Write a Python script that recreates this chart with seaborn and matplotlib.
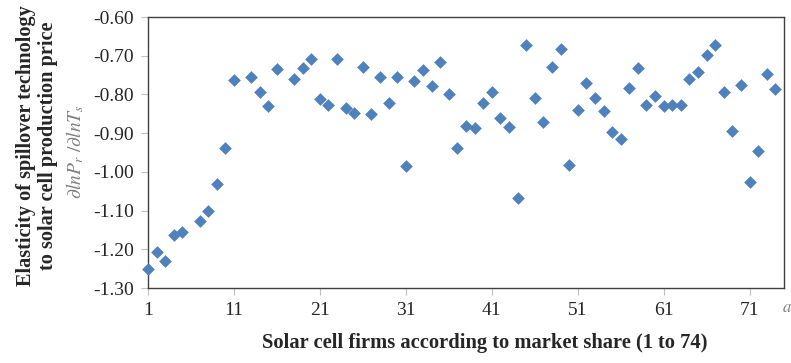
import numpy as np
import pandas as pd
import matplotlib
matplotlib.use('Agg')
import matplotlib.pyplot as plt
import seaborn as sns

# firm rank (by market share) and the elasticity
firms = [1, 2, 3, 4, 5, 7, 8, 9, 10, 11, 13, 14, 15, 16,
         18, 19, 20, 21, 22, 23, 24, 25, 26, 27, 28, 29, 30,
         31, 32, 33, 34, 35, 36, 37, 38, 39, 40, 41, 42, 43, 44,
         45, 46, 47, 48, 49, 50, 51, 52, 53, 54, 55, 56, 57, 58,
         59, 60, 61, 62, 63, 64, 65, 66, 67, 68, 69, 70, 71, 72, 73, 74]
elasticity = [-1.250, -1.208, -1.230, -1.163, -1.155, -1.126, -1.102, -1.031, -0.938, -0.762,
              -0.756, -0.795, -0.831, -0.735,
              -0.761, -0.732, -0.708, -0.812, -0.828, -0.708, -0.834, -0.849, -0.728, -0.851,
              -0.756, -0.823, -0.756, -0.986, -0.766, -0.737, -0.777, -0.716, -0.799, -0.938,
              -0.881, -0.886, -0.821, -0.793, -0.861, -0.885, -1.067, -0.673, -0.808, -0.871,
              -0.728, -0.683, -0.982, -0.840, -0.771, -0.810, -0.844, -0.898, -0.915, -0.783,
              -0.732, -0.828, -0.805, -0.831, -0.828, -0.828, -0.760, -0.743, -0.697, -0.672,
              -0.795, -0.894, -0.776, -1.027, -0.945, -0.746, -0.786]

x_ticks = [1, 11, 21, 31, 41, 51, 61, 71]
y_ticks = [-1.30, -1.20, -1.10, -1.00, -0.90, -0.80, -0.70, -0.60]

df = pd.DataFrame({'firm': firms, 'elasticity': elasticity})

sns.set_theme(style='white')
plt.rcParams['font.family'] = ['Liberation Serif', 'DejaVu Serif']
plt.rcParams['mathtext.fontset'] = 'stix'
plt.rcParams['axes.unicode_minus'] = False

fig = plt.figure(figsize=(7.91, 3.63), dpi=100)
ax = fig.add_axes([148 / 791, 1 - 288 / 363, (784 - 148) / 791, (288 - 17) / 363])

sns.scatterplot(data=df, x='firm', y='elasticity', marker='D', s=42,
                color='#4F81BD', linewidth=0, clip_on=False, zorder=3, ax=ax)

ax.set_xlim(1, 75)
ax.set_ylim(-1.30, -0.60)
ax.set_xticks(x_ticks)
ax.set_xticklabels([str(t) for t in x_ticks])
ax.set_yticks(y_ticks)
ax.set_yticklabels([f'{t:.2f}' for t in y_ticks])
ax.tick_params(axis='both', labelsize=14, length=5, width=0.8, color='#bfbfbf',
               direction='out', pad=5, bottom=True, left=True)
ax.set_xlabel('')
ax.set_ylabel('')
for sp in ax.spines.values():
    sp.set_color('#404040')
    sp.set_linewidth(1.0)

# axis titles placed like the original
fig.text(485 / 791, 1 - 343 / 363, 'Solar cell firms according to market share (1 to 74)',
         ha='center', va='center', fontsize=14.8, fontweight='bold')
fig.text(37 / 791, 1 - 146 / 363, 'Elasticity of spillover technology\nto solar cell production price',
         ha='center', va='center', rotation=90, fontsize=14.6, fontweight='bold', linespacing=1.12)
fig.text(75 / 791, 1 - 152 / 363, r'$\partial lnP_r\ /\partial lnT_s$',
         ha='center', va='center', rotation=90, fontsize=14, color='#7f7f7f')
fig.text(787 / 791, 1 - 308 / 363, r'$a$', ha='center', va='center', fontsize=12, color='#7f7f7f')

fig.savefig('out.png', dpi=100)
